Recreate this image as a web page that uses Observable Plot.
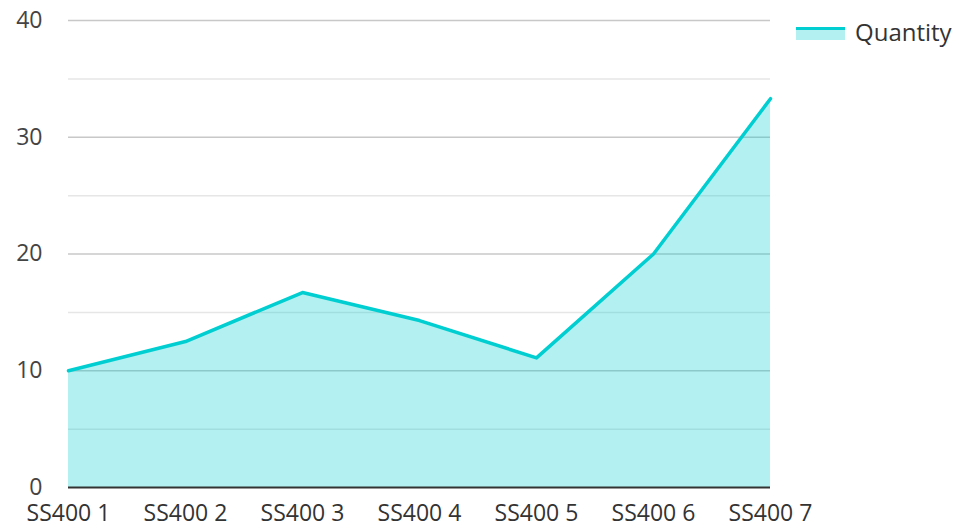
<!DOCTYPE html>
<html>
<head>
<meta charset="utf-8">
<script src="https://cdn.jsdelivr.net/npm/d3@7"></script>
<script src="https://cdn.jsdelivr.net/npm/@observablehq/plot@0.6"></script>
<style>
  html, body { margin: 0; padding: 0; background: #fff; }
  #wrap { position: relative; width: 959px; height: 528px; font-family: "Open Sans", "Noto Sans", sans-serif; }
  #legend { position: absolute; left: 796px; top: 15px; display: flex; align-items: center; font-size: 24px; color: #333; }
  #legend .sw { width: 49px; height: 13px; background: rgba(0,206,209,0.3); border-top: 3px solid #00CED1; box-sizing: border-box; margin-right: 10px; margin-top: 4px; }
  #wrap svg text { font-size: 23px; }
</style>
</head>
<body>
<div id="wrap"><div id="legend"><span class="sw"></span><span>Quantity</span></div></div>
<script>
const categories = ["SS400 1", "SS400 2", "SS400 3", "SS400 4", "SS400 5", "SS400 6", "SS400 7"];
const quantity = [10, 12.5, 16.7, 14.3, 11.1, 20, 33.3];
const majorTicks = [0, 10, 20, 30, 40];
const minorTicks = [5, 15, 25, 35];
const seriesName = "Quantity";

const data = categories.map((c, i) => ({ cat: c, value: quantity[i] }));

const chart = Plot.plot({
  width: 959,
  height: 528,
  marginLeft: 68,
  marginRight: 189,
  marginTop: 20,
  marginBottom: 41,
  style: { fontFamily: "'Open Sans', 'Noto Sans', sans-serif", fontSize: "23px", color: "#333", background: "#fff" },
  x: { type: "point", domain: categories, padding: 0, label: null },
  y: { domain: [0, 40], label: null },
  marks: [
    Plot.ruleY(minorTicks, { stroke: "#e6e6e6", strokeWidth: 1.5 }),
    Plot.ruleY(majorTicks.filter(d => d > 0), { stroke: "#c8c8c8", strokeWidth: 1.5 }),
    Plot.areaY(data, { x: "cat", y: "value", fill: "#00CED1", fillOpacity: 0.3 }),
    Plot.lineY(data, { x: "cat", y: "value", stroke: "#00CED1", strokeWidth: 3.5 }),
    Plot.ruleY([0], { stroke: "#333", strokeWidth: 2 }),
    Plot.axisY(majorTicks, { tickSize: 0, tickPadding: 26, fontSize: 23, fill: "#444", label: null }),
    Plot.axisX(categories, { tickSize: 0, tickPadding: 17, fontSize: 23, fill: "#333", label: null })
  ]
});
document.getElementById("wrap").prepend(chart);
chart.style.position = "absolute";
chart.style.left = "0";
chart.style.top = "0";
</script>
</body>
</html>
